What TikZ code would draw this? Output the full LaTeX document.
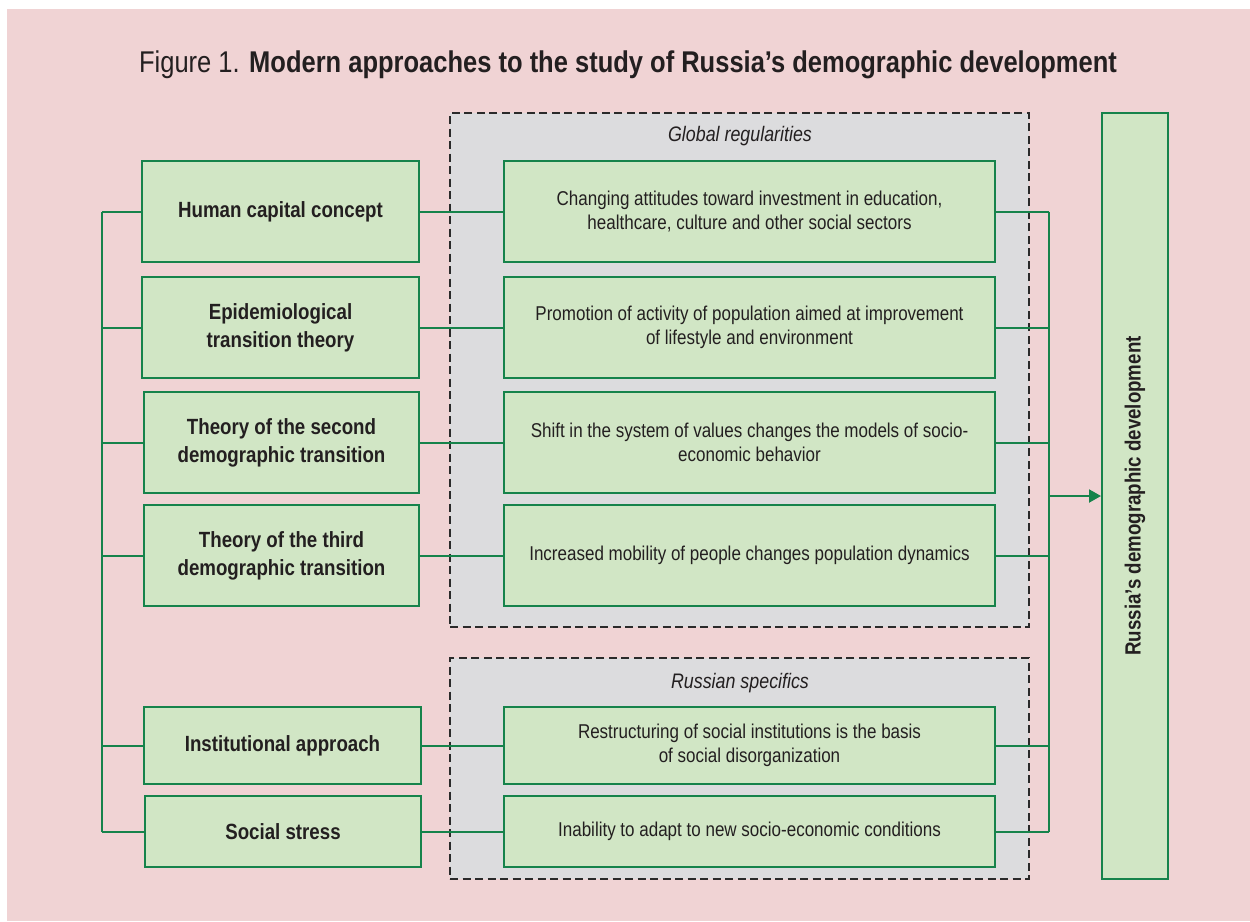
\documentclass[tikz,border=0pt]{standalone}
\usepackage{fontspec}
\setmainfont{Liberation Sans}[FakeStretch=0.85]
\usetikzlibrary{arrows.meta}
\definecolor{pinkbg}{HTML}{F0D3D4}
\definecolor{grayfill}{HTML}{DCDCDE}
\definecolor{gfill}{HTML}{D1E6C5}
\definecolor{gline}{HTML}{16834B}
\definecolor{txt}{HTML}{231F20}
\definecolor{dashc}{HTML}{2A2A2A}
\begin{document}
\begin{tikzpicture}[x=1pt,y=-1pt,
  lbox/.style={draw=gline, fill=gfill, line width=2pt, align=center, text=txt,
    font=\fontsize{22}{28}\selectfont\bfseries, inner sep=0pt},
  mbox/.style={draw=gline, fill=gfill, line width=2pt, align=center, text=txt,
    font=\fontsize{20}{24}\selectfont, inner sep=0pt, minimum width=491},
  grp/.style={draw=dashc, fill=grayfill, line width=1.8pt, dash pattern=on 8pt off 4.5pt, inner sep=0pt},
  grplabel/.style={text=txt, font=\fontsize{21}{25}\selectfont\itshape},
  conn/.style={draw=gline, line width=2pt}]
\useasboundingbox (0,0) rectangle (1250,921);
\fill[white] (0,0) rectangle (1250,921);
\fill[pinkbg] (7,9) rectangle (1250,921);

\node[anchor=base, text=txt, font=\fontsize{30}{36}\selectfont] (title) at (628,72)
  {Figure 1. \textbf{Modern approaches to the study of Russia’s demographic development}};

% groups
\node[grp, minimum width=579, minimum height=514] (g1) at (739.5,370) {};
\node[grplabel] (g1l) at (740,136) {Global regularities};
\node[grp, minimum width=579, minimum height=221] (g2) at (739.5,768.5) {};
\node[grplabel] (g2l) at (740,683) {Russian specifics};

% left boxes
\node[lbox, minimum width=277, minimum height=101] (l1) at (280.5,211.5) {Human capital concept};
\node[lbox, minimum width=277, minimum height=101] (l2) at (280.5,327.5) {Epidemiological\\transition theory};
\node[lbox, minimum width=275, minimum height=101] (l3) at (281.5,442.5) {Theory of the second\\demographic transition};
\node[lbox, minimum width=275, minimum height=101] (l4) at (281.5,555.5) {Theory of the third\\demographic transition};
\node[lbox, minimum width=277, minimum height=77] (l5) at (282.5,745.5) {Institutional approach};
\node[lbox, minimum width=276, minimum height=71, text height=16pt, text depth=-1pt] (l6) at (283,831.5) {Social stress};

% middle boxes
\node[mbox, minimum height=101] (m1) at (749.5,211.5) {Changing attitudes toward investment in education,\\healthcare, culture and other social sectors};
\node[mbox, minimum height=101] (m2) at (749.5,327.5) {Promotion of activity of population aimed at improvement\\of lifestyle and environment};
\node[mbox, minimum height=101] (m3) at (749.5,442.5) {Shift in the system of values changes the models of socio-\\economic behavior};
\node[mbox, minimum height=101] (m4) at (749.5,555.5) {Increased mobility of people changes population dynamics};
\node[mbox, minimum height=77] (m5) at (749.5,745.5) {Restructuring of social institutions is the basis\\of social disorganization};
\node[mbox, minimum height=71] (m6) at (749.5,831.5) {Inability to adapt to new socio-economic conditions};

% big right box
\node[draw=gline, fill=gfill, line width=2pt, inner sep=0pt, minimum width=66, minimum height=766] (big) at (1135,496) {};
\node[rotate=90, text=txt, font=\fontsize{22}{26}\selectfont\bfseries] (bigt) at (big.center) {Russia’s demographic development};

% bus coordinates
\coordinate (lbus) at (102,0);
\coordinate (rbus) at (1049,0);

% left bus
\draw[conn] (l1.west -| lbus) -- (l6.west -| lbus);
\foreach \i in {1,...,6} {
  \draw[conn] (l\i.west) -- (l\i.west -| lbus);
  \draw[conn] (l\i.east) -- (m\i.west);
  \draw[conn] (m\i.east) -- (m\i.east -| rbus);
}
% right bus
\draw[conn] (m1.east -| rbus) -- (m6.east -| rbus);
\draw[conn, -{Triangle[length=12pt, width=13pt]}] (big.west -| rbus) -- (big.west);
\end{tikzpicture}
\end{document}
